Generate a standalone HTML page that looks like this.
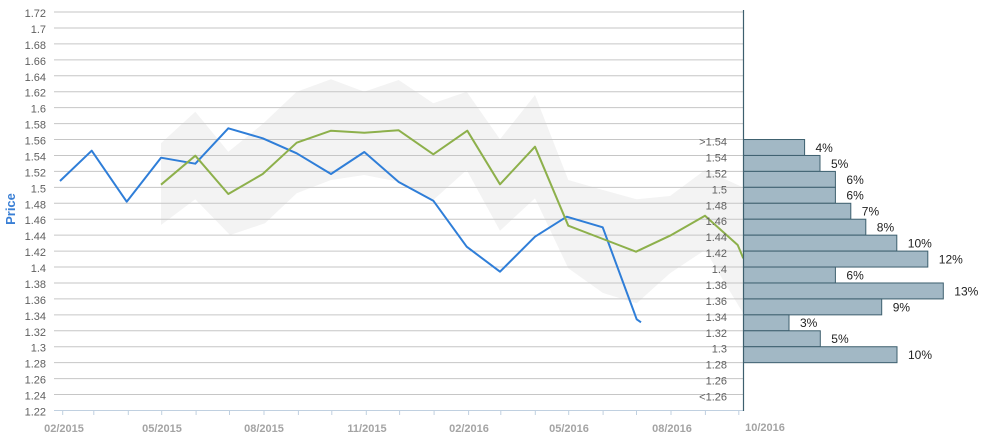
<!DOCTYPE html>
<html>
<head>
<meta charset="utf-8">
<style>
  html, body { margin:0; padding:0; background:#fff; }
  svg { display:block; }
  text { font-family: "Liberation Sans", Arial, sans-serif; }
</style>
</head>
<body>
<svg width="983" height="438" viewBox="0 0 983 438" xmlns="http://www.w3.org/2000/svg">
  <rect x="0" y="0" width="983" height="438" fill="#ffffff"/>

  <!-- band -->
  <polygon fill="#f3f3f3" points="161,143.3 195.3,111.7 228.3,151.7 262.7,124 296.7,91.7 331,79.3 364.3,91.7 398.7,80 433.3,103.3 466.7,91.7 500,139.3 535,95 568.3,180 603,190 636.7,199.3 670,196 705,170 741.7,186.7 743,190 743,313 705,250 670,273.3 636.7,303.3 603,293 568.3,268.3 535,198.3 500,230.7 466.7,170 433.3,200 398.7,181.7 364.3,175 331,180 296.7,193.3 265,223.3 230,235 195.3,199.3 161,225"/>

  <!-- gridlines -->
  <g stroke="#c6c6c6" stroke-width="1" fill="none">
    <line x1="54" x2="743" y1="12" y2="12"/>
    <line x1="54" x2="743" y1="27.94" y2="27.94"/>
    <line x1="54" x2="743" y1="43.88" y2="43.88"/>
    <line x1="54" x2="743" y1="59.82" y2="59.82"/>
    <line x1="54" x2="743" y1="75.76" y2="75.76"/>
    <line x1="54" x2="743" y1="91.7" y2="91.7"/>
    <line x1="54" x2="743" y1="107.64" y2="107.64"/>
    <line x1="54" x2="743" y1="123.58" y2="123.58"/>
    <line x1="54" x2="743" y1="139.52" y2="139.52"/>
    <line x1="54" x2="743" y1="155.46" y2="155.46"/>
    <line x1="54" x2="743" y1="171.4" y2="171.4"/>
    <line x1="54" x2="743" y1="187.34" y2="187.34"/>
    <line x1="54" x2="743" y1="203.28" y2="203.28"/>
    <line x1="54" x2="743" y1="219.22" y2="219.22"/>
    <line x1="54" x2="743" y1="235.16" y2="235.16"/>
    <line x1="54" x2="743" y1="251.1" y2="251.1"/>
    <line x1="54" x2="743" y1="267.04" y2="267.04"/>
    <line x1="54" x2="743" y1="282.98" y2="282.98"/>
    <line x1="54" x2="743" y1="298.92" y2="298.92"/>
    <line x1="54" x2="743" y1="314.86" y2="314.86"/>
    <line x1="54" x2="743" y1="330.8" y2="330.8"/>
    <line x1="54" x2="743" y1="346.74" y2="346.74"/>
    <line x1="54" x2="743" y1="362.68" y2="362.68"/>
    <line x1="54" x2="743" y1="378.62" y2="378.62"/>
    <line x1="54" x2="743" y1="394.56" y2="394.56"/>
  </g>

  <!-- x axis -->
  <line x1="54" x2="743" y1="410.5" y2="410.5" stroke="#c0d0e0" stroke-width="1"/>
  <g stroke="#c0d0e0" stroke-width="1">
    <line x1="62.7" x2="62.7" y1="410.5" y2="415"/>
    <line x1="93.8" x2="93.8" y1="410.5" y2="415"/>
    <line x1="128.3" x2="128.3" y1="410.5" y2="415"/>
    <line x1="161.7" x2="161.7" y1="410.5" y2="415"/>
    <line x1="196.1" x2="196.1" y1="410.5" y2="415"/>
    <line x1="229.5" x2="229.5" y1="410.5" y2="415"/>
    <line x1="264" x2="264" y1="410.5" y2="415"/>
    <line x1="298.4" x2="298.4" y1="410.5" y2="415"/>
    <line x1="331.8" x2="331.8" y1="410.5" y2="415"/>
    <line x1="366.3" x2="366.3" y1="410.5" y2="415"/>
    <line x1="399.6" x2="399.6" y1="410.5" y2="415"/>
    <line x1="434.1" x2="434.1" y1="410.5" y2="415"/>
    <line x1="468.6" x2="468.6" y1="410.5" y2="415"/>
    <line x1="500.8" x2="500.8" y1="410.5" y2="415"/>
    <line x1="535.3" x2="535.3" y1="410.5" y2="415"/>
    <line x1="568.7" x2="568.7" y1="410.5" y2="415"/>
    <line x1="603.1" x2="603.1" y1="410.5" y2="415"/>
    <line x1="636.5" x2="636.5" y1="410.5" y2="415"/>
    <line x1="671" x2="671" y1="410.5" y2="415"/>
    <line x1="705.4" x2="705.4" y1="410.5" y2="415"/>
    <line x1="738.8" x2="738.8" y1="410.5" y2="415"/>
  </g>
  <g fill="#a4a4a4" font-size="11" font-weight="bold" text-anchor="middle">
    <text x="64" y="432">02/2015</text>
    <text x="162" y="432">05/2015</text>
    <text x="264" y="432">08/2015</text>
    <text x="367" y="432">11/2015</text>
    <text x="469" y="432">02/2016</text>
    <text x="569" y="432">05/2016</text>
    <text x="672" y="432">08/2016</text>
    <text x="765" y="431">10/2016</text>
  </g>

  <!-- y labels -->
  <g fill="#606060" font-size="11" text-anchor="end">
    <text x="46" y="17">1.72</text>
    <text x="46" y="32.94">1.7</text>
    <text x="46" y="48.88">1.68</text>
    <text x="46" y="64.82">1.66</text>
    <text x="46" y="80.76">1.64</text>
    <text x="46" y="96.7">1.62</text>
    <text x="46" y="112.64">1.6</text>
    <text x="46" y="128.58">1.58</text>
    <text x="46" y="144.52">1.56</text>
    <text x="46" y="160.46">1.54</text>
    <text x="46" y="176.4">1.52</text>
    <text x="46" y="192.34">1.5</text>
    <text x="46" y="208.28">1.48</text>
    <text x="46" y="224.22">1.46</text>
    <text x="46" y="240.16">1.44</text>
    <text x="46" y="256.1">1.42</text>
    <text x="46" y="272.04">1.4</text>
    <text x="46" y="287.98">1.38</text>
    <text x="46" y="303.92">1.36</text>
    <text x="46" y="319.86">1.34</text>
    <text x="46" y="335.8">1.32</text>
    <text x="46" y="351.74">1.3</text>
    <text x="46" y="367.68">1.28</text>
    <text x="46" y="383.62">1.26</text>
    <text x="46" y="399.56">1.24</text>
    <text x="46" y="415.5">1.22</text>
  </g>

  <!-- Price axis title -->
  <text x="15" y="209" fill="#3a7fd5" font-size="13" font-weight="bold" text-anchor="middle" transform="rotate(-90 15 209)" dy="0">Price</text>

  <!-- series -->
  <polyline fill="none" stroke="#2f7ed8" stroke-width="2" stroke-linejoin="round"
    points="60,181 91.7,150.7 126.7,201.7 161,157.7 195.3,163.7 228.3,128.3 262.7,138.3 296.7,153.3 331,174 364.3,152 398.7,182 433.3,200.7 466.7,246.7 500,271.7 535,236.7 566.7,216.7 602.7,227.3 636.7,319.3 641,322.3"/>
  <polyline fill="none" stroke="#8db04b" stroke-width="2" stroke-linejoin="round"
    points="161,184.7 195.3,155.7 228.3,194 262.7,174 296.7,142.7 331,130.7 364.3,132.7 398.7,130.3 433.3,154.3 467.3,130.7 500,184.3 535,146.7 568.3,225.7 603,239 636,251.7 670,235.7 705,215.7 737.7,245 743.3,258.3"/>

  <!-- histogram labels -->
  <g fill="#606060" font-size="11" text-anchor="end">
    <text x="727" y="145.5">&gt;1.54</text>
    <text x="727" y="161.5">1.54</text>
    <text x="727" y="177.4">1.52</text>
    <text x="727" y="193.3">1.5</text>
    <text x="727" y="209.3">1.48</text>
    <text x="727" y="225.2">1.46</text>
    <text x="727" y="241.2">1.44</text>
    <text x="727" y="257.1">1.42</text>
    <text x="727" y="273">1.4</text>
    <text x="727" y="289">1.38</text>
    <text x="727" y="304.9">1.36</text>
    <text x="727" y="320.9">1.34</text>
    <text x="727" y="336.8">1.32</text>
    <text x="727" y="352.7">1.3</text>
    <text x="727" y="368.7">1.28</text>
    <text x="727" y="384.6">1.26</text>
    <text x="727" y="400.6">&lt;1.26</text>
  </g>

  <!-- histogram bars -->
  <g fill="#a2b8c5" stroke="#3d5f6e" stroke-width="1">
    <rect x="743.5" y="139.52" width="61.1" height="15.94"/>
    <rect x="743.5" y="155.46" width="76.5" height="15.94"/>
    <rect x="743.5" y="171.4" width="91.9" height="15.94"/>
    <rect x="743.5" y="187.34" width="91.9" height="15.94"/>
    <rect x="743.5" y="203.28" width="107.3" height="15.94"/>
    <rect x="743.5" y="219.22" width="122.3" height="15.94"/>
    <rect x="743.5" y="235.16" width="153.3" height="15.94"/>
    <rect x="743.5" y="251.1" width="184.3" height="15.94"/>
    <rect x="743.5" y="267.04" width="91.9" height="15.94"/>
    <rect x="743.5" y="282.98" width="199.8" height="15.94"/>
    <rect x="743.5" y="298.92" width="138.2" height="15.94"/>
    <rect x="743.5" y="314.86" width="45.5" height="15.94"/>
    <rect x="743.5" y="330.8" width="76.8" height="15.94"/>
    <rect x="743.5" y="346.74" width="153.5" height="15.94"/>
  </g>

  <!-- vertical axis line -->
  <line x1="743.5" x2="743.5" y1="10" y2="411" stroke="#3d5f6e" stroke-width="1.2"/>

  <!-- percent labels -->
  <g fill="#222" font-size="12">
    <text x="815.5" y="151.9">4%</text>
    <text x="831" y="167.8">5%</text>
    <text x="846.4" y="183.8">6%</text>
    <text x="846.4" y="199.7">6%</text>
    <text x="861.8" y="215.7">7%</text>
    <text x="876.8" y="231.6">8%</text>
    <text x="907.8" y="247.5">10%</text>
    <text x="938.8" y="263.5">12%</text>
    <text x="846.4" y="279.4">6%</text>
    <text x="954.3" y="295.4">13%</text>
    <text x="892.7" y="311.3">9%</text>
    <text x="800" y="327.2">3%</text>
    <text x="831.3" y="343.2">5%</text>
    <text x="908" y="359.1">10%</text>
  </g>
</svg>
</body>
</html>
